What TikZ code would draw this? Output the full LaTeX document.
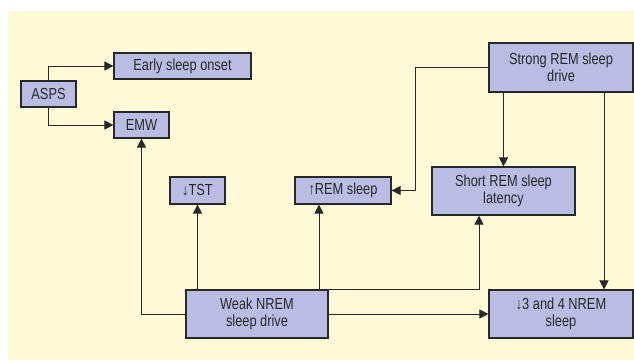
\documentclass[tikz,border=0pt]{standalone}
\usepackage{fontspec}
\setmainfont[FakeStretch=0.8]{Liberation Sans}
\usetikzlibrary{arrows.meta}
\definecolor{paper}{RGB}{254,249,214}
\definecolor{boxfill}{RGB}{185,189,227}
\definecolor{ink}{RGB}{40,40,40}
\tikzset{
  sleepbox/.style={draw=ink, line width=1.2pt, fill=boxfill, rectangle, inner sep=0pt,
    text=ink, align=center, font=\fontsize{16}{17}\selectfont},
  link/.style={->, draw=ink, line width=1pt}
}
\begin{document}
\begin{tikzpicture}[>={Triangle[length=9pt,width=9pt]}, x=1pt, y=-1pt]
        % Page and background
        \useasboundingbox (0,0) rectangle (634,360);
        \fill[paper] (8,11) rectangle (634,360);

        % Left group
        \node[sleepbox, minimum width=55pt, minimum height=26pt] (asps) at (48.5,94) {ASPS};
        \node[sleepbox, minimum width=137pt, minimum height=26pt] (early) at (182.5,66) {Early sleep onset};
        \node[sleepbox, minimum width=55pt, minimum height=26pt] (emw) at (141.5,125) {EMW};

        % Middle row
        \node[sleepbox, minimum width=55pt, minimum height=27pt] (tst) at (197.5,190.5) {↓TST};
        \node[sleepbox, minimum width=96pt, minimum height=27pt] (rem) at (343,190.5) {↑REM sleep};
        \node[sleepbox, minimum width=143pt, minimum height=48pt] (latency) at (503.5,191) {Short REM sleep\\latency};

        % Drives
        \node[sleepbox, minimum width=144pt, minimum height=49pt] (strong) at (561,67.5) {Strong REM sleep\\drive};
        \node[sleepbox, minimum width=142pt, minimum height=48pt] (weak) at (257,314) {Weak NREM\\sleep drive};
        \node[sleepbox, minimum width=144pt, minimum height=48pt] (nrem) at (561,314) {↓3 and 4 NREM\\sleep};

        % ASPS links
        \draw[link] (asps.north) |- (early.west);
        \draw[link] (asps.south) |- (emw.west);

        % Weak NREM links
        \draw[link] (weak.west) -| (emw.south);
        \draw[link] (weak.north -| tst.south) -- (tst.south);
        \draw[link] ([xshift=-24pt]weak.north -| rem.south) -- ([xshift=-24pt]rem.south);
        \draw[link] (weak.north east) -| ([xshift=-24.5pt]latency.south);
        \draw[link] (weak.east) -- (nrem.west);

        % Strong REM links
        \draw[link] (strong.south -| latency.north) -- (latency.north);
        \draw[link] ([xshift=43pt]strong.south) -- ([xshift=43pt]nrem.north);
        \draw[link] (strong.west) -| ([xshift=24pt]rem.east) -- (rem.east);
\end{tikzpicture}
\end{document}
